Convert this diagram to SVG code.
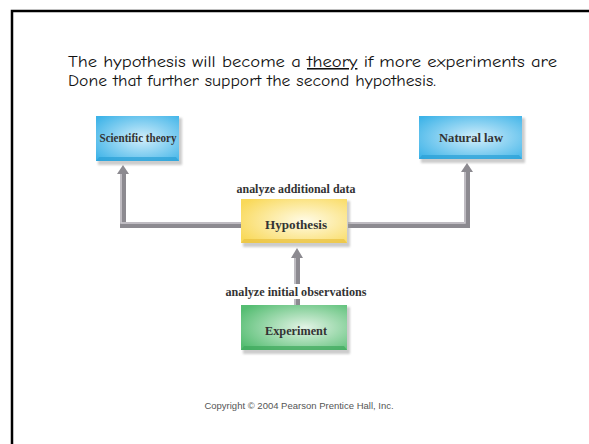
<svg xmlns="http://www.w3.org/2000/svg" width="589" height="444" viewBox="0 0 589 444">
<style>
.title{font-family:"Comic Neue","DejaVu Sans","Liberation Sans",sans-serif;font-size:15.5px;fill:#111}
.lbl{font-family:"Liberation Serif","DejaVu Serif",serif;font-weight:bold;font-size:11.5px;fill:#333}
.box{font-family:"Liberation Serif","DejaVu Serif",serif;font-weight:bold;font-size:12.5px;fill:#333}
.copy{font-family:"Liberation Sans",Arial,sans-serif;font-size:9.5px;fill:#555}
.pipe{fill:none;stroke:#8c8a90;stroke-width:6;stroke-linejoin:miter}
.pipehi{fill:none;stroke:#cfcdd2;stroke-width:1.5}
.shadow{fill:#9a9a9a;opacity:0.5}
</style>
<defs>
<radialGradient id="gb" cx="0.55" cy="0.5" r="0.7">
<stop offset="0" stop-color="#d2eefb"/><stop offset="1" stop-color="#3db3e8"/>
</radialGradient>
<radialGradient id="gy" cx="0.6" cy="0.5" r="0.7">
<stop offset="0" stop-color="#fffbe6"/><stop offset="1" stop-color="#f9d95a"/>
</radialGradient>
<radialGradient id="gg" cx="0.6" cy="0.5" r="0.7">
<stop offset="0" stop-color="#e3f4e6"/><stop offset="1" stop-color="#55bd72"/>
</radialGradient>
<filter id="blur" x="-10%" y="-10%" width="120%" height="130%"><feGaussianBlur stdDeviation="1.2"/></filter>
</defs>
<rect x="12" y="11" width="600" height="460" fill="#fff" stroke="#000" stroke-width="2.5"/>
<text class="title" x="68" y="67" textLength="489" lengthAdjust="spacingAndGlyphs">The hypothesis will become a <tspan text-decoration="underline">theory</tspan> if more experiments are</text>
<text class="title" x="68" y="86" textLength="368" lengthAdjust="spacingAndGlyphs">Done that further support the second hypothesis.</text>
<g id="connectors">
<path class="pipe" d="M241,225 H123 V172"/>
<path class="pipehi" d="M241,223 H121 V172"/>
<path d="M117,174 L123,165 L129,174 Z" fill="#8c8a90"/>
<path class="pipe" d="M348,225 H467 V170"/>
<path class="pipehi" d="M348,223 H465 V170"/>
<path d="M461,172 L467,163 L473,172 Z" fill="#8c8a90"/>
<path class="pipe" d="M297,305 V256"/>
<path class="pipehi" d="M295,305 V256"/>
<path d="M291,258 L297,248 L303,258 Z" fill="#8c8a90"/>
<rect x="222" y="284" width="150" height="15" fill="#fff"/>
</g>
<g id="scientific-theory">
<rect class="shadow" x="98" y="118" width="84" height="47" filter="url(#blur)"/>
<rect x="96" y="116" width="83" height="45" fill="url(#gb)"/>
<path d="M96,161 L99,157 H176 L179,161 Z" fill="#2a9fd6" opacity="0.7"/>
<text class="box" x="138" y="142" text-anchor="middle" textLength="77" lengthAdjust="spacingAndGlyphs">Scientific theory</text>
</g>
<g id="natural-law">
<rect class="shadow" x="421" y="118" width="104" height="45" filter="url(#blur)"/>
<rect x="419" y="116" width="103" height="43" fill="url(#gb)"/>
<path d="M419,159 L422,155 H519 L522,159 Z" fill="#2a9fd6" opacity="0.7"/>
<text class="box" x="471" y="142" text-anchor="middle" textLength="64" lengthAdjust="spacingAndGlyphs">Natural law</text>
</g>
<g id="hypothesis">
<text class="lbl" x="296" y="193" text-anchor="middle" textLength="119" lengthAdjust="spacingAndGlyphs">analyze additional data</text>
<rect class="shadow" x="243" y="201" width="107" height="46" filter="url(#blur)"/>
<rect x="241" y="199" width="106" height="44" fill="url(#gy)"/>
<path d="M241,243 L244,239 H344 L347,243 Z" fill="#e8c040" opacity="0.7"/>
<text class="box" x="296" y="229" text-anchor="middle" textLength="62" lengthAdjust="spacingAndGlyphs">Hypothesis</text>
</g>
<g id="experiment">
<text class="lbl" x="296" y="296" text-anchor="middle" textLength="141" lengthAdjust="spacingAndGlyphs">analyze initial observations</text>
<rect class="shadow" x="243" y="307" width="107" height="47" filter="url(#blur)"/>
<rect x="241" y="305" width="106" height="45" fill="url(#gg)"/>
<path d="M241,350 L244,346 H344 L347,350 Z" fill="#3ea85c" opacity="0.7"/>
<text class="box" x="296" y="335" text-anchor="middle" textLength="62" lengthAdjust="spacingAndGlyphs">Experiment</text>
</g>
<text class="copy" x="299" y="409" text-anchor="middle">Copyright © 2004 Pearson Prentice Hall, Inc.</text>
</svg>
